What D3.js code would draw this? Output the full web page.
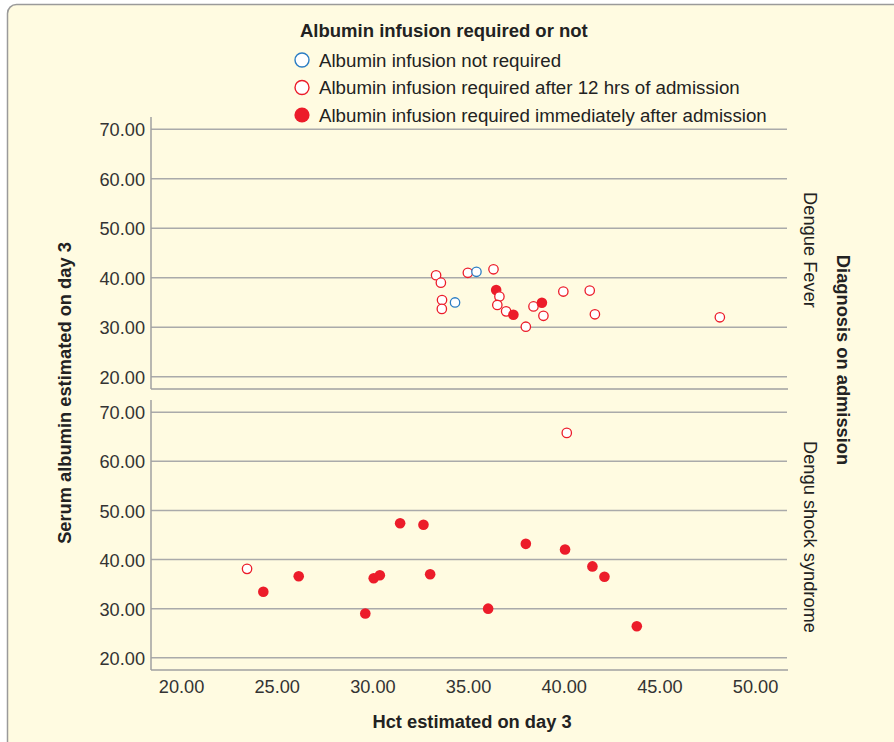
<!DOCTYPE html>
<html>
<head>
<meta charset="utf-8">
<script src="https://cdn.jsdelivr.net/npm/d3@7"></script>
<style>
  body { margin: 0; background: #fff; }
  text { font-family: "Liberation Sans", Arial, sans-serif; }
</style>
</head>
<body>
<div id="chart"></div>
<script>
// datos
var diagnoses = ["Dengue Fever", "Dengu shock syndrome"];
var groups = ["Albumin infusion not required",
              "Albumin infusion required after 12 hrs of admission",
              "Albumin infusion required immediately after admission"];

// Dengue Fever
var dfHct     = [33.33, 33.58, 34.99, 35.44, 36.33, 36.47, 36.64, 33.64, 34.32, 33.63, 36.53,
                 36.99, 37.37, 38.42, 38.86, 38.94, 38.02, 39.98, 41.36, 41.63, 48.16];
var dfAlbumin = [40.5, 39.0, 41.0, 41.2, 41.7, 37.5, 36.2, 35.5, 35.0, 33.7, 34.5,
                 33.2, 32.5, 34.2, 34.95, 32.3, 30.1, 37.2, 37.4, 32.6, 32.0];
var dfGroup   = [1, 1, 1, 0, 1, 2, 1, 1, 0, 1, 1,
                 1, 2, 1, 2, 1, 1, 1, 1, 1, 1];

// Dengu shock syndrome
var dssHct     = [23.45, 24.3, 26.15, 30.07, 30.39, 29.63, 31.45, 32.67, 33.02, 36.05, 40.16,
                  38.02, 40.07, 41.5, 42.13, 43.82];
var dssAlbumin = [38.1, 33.45, 36.6, 36.2, 36.8, 29.0, 47.4, 47.1, 37.0, 30.0, 65.8,
                  43.2, 42.05, 38.6, 36.5, 26.4];
var dssGroup   = [1, 2, 2, 2, 2, 2, 2, 2, 2, 2, 1,
                  2, 2, 2, 2, 2];

var xTicks = [20, 25, 30, 35, 40, 45, 50];
var yTicks = [20, 30, 40, 50, 60, 70];

var width = 894, height = 742;
var blue = "#2b7dc4", red = "#ec1c2a";

var svg = d3.select("#chart").append("svg")
  .attr("width", width).attr("height", height);

// fondo con borde redondeado
svg.append("rect")
  .attr("x", 7.5).attr("y", 4.5)
  .attr("width", width + 20).attr("height", height + 20)
  .attr("rx", 9)
  .attr("fill", "#fffbe1")
  .attr("stroke", "#9a9a9a").attr("stroke-width", 1.5);

var left = 151, right = 787;
var x = d3.scaleLinear().domain([18.43, 51.67]).range([left, right]);

var panels = [
  { name: diagnoses[0], top: 117, bottom: 389, hct: dfHct, alb: dfAlbumin, grp: dfGroup },
  { name: diagnoses[1], top: 400, bottom: 670, hct: dssHct, alb: dssAlbumin, grp: dssGroup }
];

var fmt = d3.format(".2f");

panels.forEach(function (p, pi) {
  var y = d3.scaleLinear().domain([17.5, 72.5]).range([p.bottom, p.top]);
  var g = svg.append("g");

  // lineas de la grilla
  g.selectAll(".grid")
    .data(yTicks)
    .enter()
    .append("line")
    .attr("x1", left).attr("x2", right)
    .attr("y1", function (d) { return y(d); })
    .attr("y2", function (d) { return y(d); })
    .attr("stroke", "#aaaaaa").attr("stroke-width", 1.5);

  // eje y
  var yAxis = g.append("g")
    .attr("transform", "translate(" + left + ",0)")
    .call(d3.axisLeft(y).tickValues(yTicks).tickFormat(fmt).tickSize(0).tickPadding(6));
  yAxis.select(".domain").remove();
  yAxis.selectAll("text")
    .attr("font-size", 18.2)
    .attr("fill", "#333")
    .attr("dy", "0.36em")
    .attr("font-family", "Liberation Sans, Arial, sans-serif");

  g.append("line")
    .attr("x1", left).attr("x2", left)
    .attr("y1", p.top).attr("y2", p.bottom)
    .attr("stroke", "#a0a0a0").attr("stroke-width", 1.5);
  g.append("line")
    .attr("x1", left).attr("x2", right + 1)
    .attr("y1", p.bottom).attr("y2", p.bottom)
    .attr("stroke", "#a0a0a0").attr("stroke-width", 1.5);

  // puntos
  var pts = p.hct.map(function (h, i) {
    return { hct: h, alb: p.alb[i], grp: p.grp[i] };
  });
  g.selectAll(".dot")
    .data(pts)
    .enter()
    .append("circle")
    .attr("cx", function (d) { return x(d.hct); })
    .attr("cy", function (d) { return y(d.alb); })
    .attr("r", function (d) { return d.grp === 2 ? 5.3 : 4.7; })
    .attr("fill", function (d) { return d.grp === 2 ? red : "#fff"; })
    .attr("stroke", function (d) { return d.grp === 0 ? blue : red; })
    .attr("stroke-width", function (d) { return d.grp === 2 ? 0 : 1.3; });

  // etiqueta del panel
  var cy = (p.top + p.bottom) / 2;
  svg.append("text")
    .attr("transform", "translate(804," + (cy + (pi === 0 ? -3 : 2)) + ") rotate(90)")
    .attr("text-anchor", "middle")
    .attr("font-size", 18.3)
    .attr("fill", "#222")
    .text(p.name);
});

// eje x
var xAxis = svg.append("g")
  .attr("transform", "translate(0,670)")
  .call(d3.axisBottom(x).tickValues(xTicks).tickFormat(fmt).tickSize(0).tickPadding(10));
xAxis.select(".domain").remove();
xAxis.selectAll("text")
  .attr("font-size", 18.2)
  .attr("fill", "#333")
  .attr("font-family", "Liberation Sans, Arial, sans-serif");

// titulos de los ejes
svg.append("text")
  .attr("x", 472).attr("y", 728)
  .attr("text-anchor", "middle")
  .attr("font-size", 18.3).attr("font-weight", "bold").attr("fill", "#222")
  .text("Hct estimated on day 3");

svg.append("text")
  .attr("transform", "translate(71,393) rotate(-90)")
  .attr("text-anchor", "middle")
  .attr("font-size", 18.3).attr("font-weight", "bold").attr("fill", "#222")
  .text("Serum albumin estimated on day 3");

svg.append("text")
  .attr("transform", "translate(837,360) rotate(90)")
  .attr("text-anchor", "middle")
  .attr("font-size", 18.3).attr("font-weight", "bold").attr("fill", "#222")
  .text("Diagnosis on admission");

// leyenda
svg.append("text")
  .attr("x", 300).attr("y", 37)
  .attr("font-size", 18.5).attr("font-weight", "bold").attr("fill", "#222")
  .text("Albumin infusion required or not");

var legendItem = svg.append("g")
  .selectAll("g")
  .data(groups)
  .enter()
  .append("g")
  .attr("transform", function (d, i) {
    return "translate(302," + (60 + i * 27.5) + ")";
  });

legendItem.append("circle")
  .attr("r", function (d, i) { return i === 2 ? 7.6 : 7; })
  .attr("fill", function (d, i) { return i === 2 ? red : "#fff"; })
  .attr("stroke", function (d, i) { return i === 0 ? blue : red; })
  .attr("stroke-width", function (d, i) { return i === 2 ? 0 : 1.4; });

legendItem.append("text")
  .attr("x", 17).attr("y", 6.8)
  .attr("font-size", 18.7).attr("fill", "#222")
  .text(function (d) { return d; });
</script>
</body>
</html>
